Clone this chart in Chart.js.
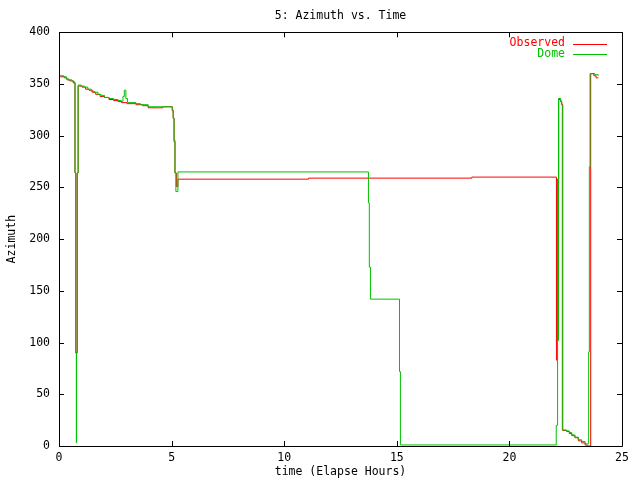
<!DOCTYPE html>
<html>
<head>
<meta charset="utf-8">
<script src="https://cdn.jsdelivr.net/npm/chart.js@4/dist/chart.umd.min.js"></script>
<style>
  body { margin: 0; background: #fff; }
</style>
</head>
<body>
<canvas id="myChart" width="640" height="480"></canvas>
<script>
// values (hours, degrees); held until the next time (steps)
const obsTime = [0, 0.23, 0.35, 0.48, 0.63, 0.71, 0.75, 0.81, 0.85, 1.03, 1.18, 1.33, 1.48, 1.63,
  1.82, 2.02, 2.22, 2.42, 2.62, 2.77, 3.02, 3.42, 3.71, 3.96, 4.41, 4.61, 5.03, 5.07, 5.11, 5.15,
  5.21, 5.28, 11.08, 18.33, 22.09, 22.13, 22.19, 22.29, 22.33, 22.37, 22.54, 22.66, 22.77, 22.91,
  23.06, 23.21, 23.36, 23.45, 23.61, 23.75, 23.85, 23.95];
const obsAzimuth = [357, 356, 354, 353, 351, 264, 90, 264, 348, 347, 345, 344, 342, 340,
  338, 337, 335, 334, 333, 332, 331, 330, 329, 327, 327, 328, 324, 317, 294, 264,
  251, 258, 259, 260, 83, 258, 335, 333, 330, 15, 14, 12, 10, 8,
  5, 3, 1, 0, 360, 358, 356, 356];

const domeTime = [0, 0.21, 0.33, 0.43, 0.58, 0.65, 0.71, 0.74, 0.77, 0.78, 0.81, 0.85, 0.98, 1.13,
  1.28, 1.43, 1.58, 1.73, 1.87, 2.02, 2.22, 2.42, 2.62, 2.77, 2.84, 2.90, 2.97, 3.04, 3.42, 3.62,
  3.96, 5.03, 5.07, 5.11, 5.15, 5.19, 5.28, 13.74, 13.78, 13.83, 15.12, 15.16, 22.08, 22.14,
  22.18, 22.27, 22.31, 22.35, 22.54, 22.66, 22.77, 22.91, 23.06, 23.21, 23.36, 23.52, 23.55,
  23.58, 23.8, 23.95];
const domeAzimuth = [358, 357, 355, 354, 353, 352, 264, 90, 3, 90, 264, 349, 348, 347,
  345, 343, 342, 340, 339, 337, 336, 335, 334, 333, 338, 344, 336, 332, 331, 330,
  328, 325, 317, 296, 264, 246, 265, 235, 173, 142, 72, 1, 20, 102,
  336, 333, 330, 15.5, 14.5, 13, 10.7, 8.5, 6, 4.3, 2, 91, 270,
  360, 359, 358];

const seriesNames = ['Observed', 'Dome'];
const seriesColors = ['#ff0000', '#00c000'];

Chart.defaults.font.family = "'DejaVu Sans Mono', monospace";
Chart.defaults.font.size = 11.5;
Chart.defaults.color = '#000';

function toPoints(t, v) {
  const pts = [];
  t.forEach((x, i) => pts.push({x: x, y: v[i]}));
  return pts;
}

// gnuplot style frame, inward ticks on all four sides and a right aligned key
const gnuFrame = {
  id: 'gnuFrame',
  afterDraw(chart) {
    const ctx = chart.ctx;
    const a = chart.chartArea;
    const xs = chart.scales.x, ys = chart.scales.y;
    ctx.save();
    ctx.strokeStyle = '#000';
    ctx.lineWidth = 1;
    ctx.beginPath();
    ctx.rect(Math.round(a.left) + 0.5, Math.round(a.top) + 0.5,
      Math.round(a.right - a.left), Math.round(a.bottom - a.top));
    xs.ticks.forEach(tk => {
      const px = Math.round(xs.getPixelForValue(tk.value)) + 0.5;
      ctx.moveTo(px, a.bottom); ctx.lineTo(px, a.bottom - 5);
      ctx.moveTo(px, a.top); ctx.lineTo(px, a.top + 5);
    });
    ys.ticks.forEach(tk => {
      const py = Math.round(ys.getPixelForValue(tk.value)) + 0.5;
      ctx.moveTo(a.left, py); ctx.lineTo(a.left + 5, py);
      ctx.moveTo(a.right, py); ctx.lineTo(a.right - 5, py);
    });
    ctx.stroke();

    ctx.font = "11.5px 'DejaVu Sans Mono', monospace";
    ctx.textAlign = 'right';
    ctx.textBaseline = 'middle';
    chart.data.datasets.forEach((ds, i) => {
      const y = 43.5 + 10.5 * i;
      ctx.fillStyle = ds.borderColor;
      ctx.fillText(ds.label, 565, y);
      ctx.strokeStyle = ds.borderColor;
      ctx.beginPath();
      ctx.moveTo(573, Math.round(y) + 0.5);
      ctx.lineTo(607, Math.round(y) + 0.5);
      ctx.stroke();
    });
    ctx.restore();
  }
};

const ctx = document.getElementById('myChart').getContext('2d');
const myChart = new Chart(ctx, {
  type: 'line',
  data: {
    datasets: [
      {
        label: seriesNames[0],
        data: toPoints(obsTime, obsAzimuth),
        borderColor: seriesColors[0],
        borderWidth: 1,
        pointRadius: 0,
        stepped: 'before',
        fill: false,
        order: 1
      },
      {
        label: seriesNames[1],
        data: toPoints(domeTime, domeAzimuth),
        borderColor: seriesColors[1],
        borderWidth: 1,
        pointRadius: 0,
        stepped: 'before',
        fill: false,
        order: 0
      }
    ]
  },
  options: {
    responsive: false,
    animation: false,
    layout: { padding: { left: 0, right: 18, top: 0, bottom: 0 } },
    plugins: {
      legend: { display: false },
      tooltip: { enabled: false },
      title: {
        display: true,
        text: '5: Azimuth vs. Time',
        fullSize: false,
        font: { size: 11.5, weight: 'normal' },
        color: '#000',
        padding: { top: 9, bottom: 9.5 }
      }
    },
    scales: {
      x: {
        type: 'linear',
        min: 0,
        max: 25,
        ticks: { stepSize: 5, padding: 5, maxRotation: 0 },
        grid: { display: false, drawTicks: false },
        border: { display: false },
        title: { display: true, text: 'time (Elapse Hours)', padding: { top: 0, bottom: 1 } },
        afterFit: s => { s.height = 34; }
      },
      y: {
        min: 0,
        max: 400,
        ticks: { stepSize: 50, padding: 9 },
        grid: { display: false, drawTicks: false },
        border: { display: false },
        title: { display: true, text: 'Azimuth', padding: { top: 5, bottom: 0 } },
        afterFit: s => { s.width = 59; }
      }
    }
  },
  plugins: [gnuFrame]
});
</script>
</body>
</html>
